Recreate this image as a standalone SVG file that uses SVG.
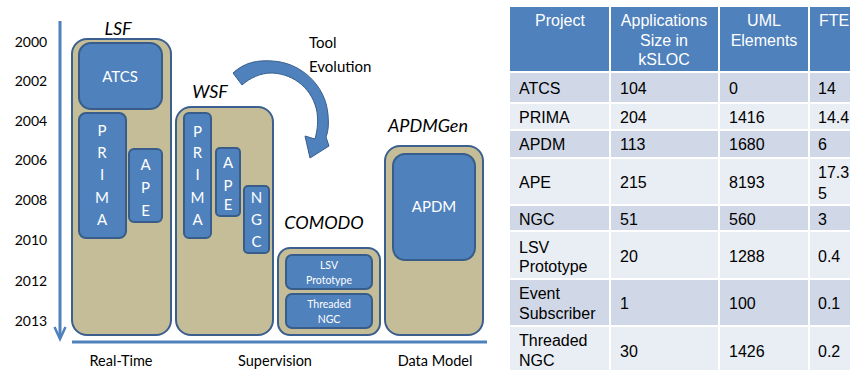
<svg xmlns="http://www.w3.org/2000/svg" width="850" height="370" viewBox="0 0 850 370">
<style>
.cont{fill:#c4bd97;stroke:#3b5f8f;stroke-width:2}
.box{fill:#4f81bd;stroke:#385d8a;stroke-width:2}
.wt{font-family:Lato,"Open Sans",sans-serif;fill:#ffffff;text-anchor:middle}
.lt{font-family:Lato,"Open Sans",sans-serif;fill:#000000}
.it{font-family:Lato,"Open Sans",sans-serif;font-style:italic;fill:#000000;font-size:18px;text-anchor:middle}
.yr{font-family:Lato,"Open Sans",sans-serif;font-size:14px;fill:#000;text-anchor:middle}
.th{fill:#4f81bd}
.d{fill:#d0d8e8}
.l{fill:#e9edf4}
.tt{font-family:"Liberation Sans",Arial,sans-serif;font-size:16px;fill:#000}
.tw{font-family:"Liberation Sans",Arial,sans-serif;font-size:16px;fill:#fff;text-anchor:middle}
.ts{text-anchor:start}
</style>
<rect width="850" height="370" fill="#ffffff"/>

<g id="connectors">
  <line x1="60" y1="21" x2="60" y2="337" stroke="#4f81bd" stroke-width="3"/>
  <polyline points="54.5,327 60,339 65.5,327" fill="none" stroke="#4f81bd" stroke-width="2.5"/>
  <line x1="72" y1="342" x2="487" y2="342" stroke="#4f81bd" stroke-width="3"/>
  <path d="M233,73 C245,62 258,60 272,61 C300,62 326,85 328,115 C329,125 328,132 326,137 L329,146 L310,158 L305,136 L315,139 C318,128 318,120 317,112 C313,90 295,74 272,73 C260,73 250,78 242,85 Z" fill="#4f81bd" stroke="#385d8a" stroke-width="1"/>
</g>

<g id="years">
  <text class="yr" x="31" y="47">2000</text>
  <text class="yr" x="31" y="86">2002</text>
  <text class="yr" x="31" y="126">2004</text>
  <text class="yr" x="31" y="165">2006</text>
  <text class="yr" x="31" y="205">2008</text>
  <text class="yr" x="31" y="245">2010</text>
  <text class="yr" x="31" y="286">2012</text>
  <text class="yr" x="31" y="326">2013</text>
</g>

<g id="axis-labels">
  <text class="lt" x="121" y="366" font-size="14.5" text-anchor="middle">Real-Time</text>
  <text class="lt" x="275" y="366" font-size="14.5" text-anchor="middle">Supervision</text>
  <text class="lt" x="435" y="366" font-size="14.5" text-anchor="middle">Data Model</text>
</g>

<g id="tool-evolution">
  <text class="lt" x="309" y="48" font-size="15">Tool</text>
  <text class="lt" x="309" y="72" font-size="15">Evolution</text>
</g>

<g id="LSF">
  <text class="it" x="118" y="35">LSF</text>
  <rect class="cont" x="72" y="39" width="99" height="296" rx="15"/>
</g>
<g id="ATCS">
  <rect class="box" x="79" y="43" width="83" height="66" rx="12"/>
  <text class="wt" x="120" y="82" font-size="15">ATCS</text>
</g>
<g id="PRIMA-LSF">
  <rect class="box" x="79" y="113" width="47" height="125" rx="7"/>
  <text class="wt" x="102" y="136" font-size="15">P</text>
  <text class="wt" x="102" y="158" font-size="15">R</text>
  <text class="wt" x="102" y="180" font-size="15">I</text>
  <text class="wt" x="102" y="203" font-size="15">M</text>
  <text class="wt" x="102" y="225" font-size="15">A</text>
</g>
<g id="APE-LSF">
  <rect class="box" x="129" y="149" width="33" height="73" rx="5"/>
  <text class="wt" x="145.5" y="170" font-size="15">A</text>
  <text class="wt" x="145.5" y="193" font-size="15">P</text>
  <text class="wt" x="145.5" y="216" font-size="15">E</text>
</g>

<g id="WSF">
  <text class="it" x="210" y="98">WSF</text>
  <rect class="cont" x="176" y="107" width="97" height="228" rx="15"/>
</g>
<g id="PRIMA-WSF">
  <rect class="box" x="184" y="113" width="27" height="125" rx="5"/>
  <text class="wt" x="197.5" y="137" font-size="15">P</text>
  <text class="wt" x="197.5" y="158" font-size="15">R</text>
  <text class="wt" x="197.5" y="180" font-size="15">I</text>
  <text class="wt" x="197.5" y="203" font-size="15">M</text>
  <text class="wt" x="197.5" y="225" font-size="15">A</text>
</g>
<g id="APE-WSF">
  <rect class="box" x="216" y="148" width="24" height="68" rx="4"/>
  <text class="wt" x="228" y="168" font-size="15">A</text>
  <text class="wt" x="228" y="191" font-size="15">P</text>
  <text class="wt" x="228" y="210" font-size="15">E</text>
</g>
<g id="NGC">
  <rect class="box" x="244" y="186" width="25" height="67" rx="4"/>
  <text class="wt" x="256.5" y="203" font-size="15">N</text>
  <text class="wt" x="256.5" y="225" font-size="15">G</text>
  <text class="wt" x="256.5" y="247" font-size="15">C</text>
</g>

<g id="COMODO">
  <text class="it" x="324" y="229">COMODO</text>
  <rect class="cont" x="278" y="248" width="102" height="87" rx="12"/>
</g>
<g id="LSV-Prototype">
  <rect class="box" x="286" y="255" width="86" height="34" rx="6"/>
  <text class="wt" x="329" y="269" font-size="10.5">LSV</text>
  <text class="wt" x="329" y="284" font-size="10.5">Prototype</text>
</g>
<g id="Threaded-NGC">
  <rect class="box" x="286" y="294" width="86" height="34" rx="6"/>
  <text class="wt" x="329" y="308" font-size="10.5">Threaded</text>
  <text class="wt" x="329" y="323" font-size="10.5">NGC</text>
</g>

<g id="APDMGen">
  <text class="it" x="428" y="132">APDMGen</text>
  <rect class="cont" x="385" y="146" width="98" height="189" rx="15"/>
</g>
<g id="APDM">
  <rect class="box" x="393" y="154" width="82" height="106" rx="12"/>
  <text class="wt" x="434" y="212" font-size="15">APDM</text>
</g>

<g id="table">
  <rect class="th" x="510" y="7" width="99" height="64"/>
  <rect class="th" x="611" y="7" width="107" height="64"/>
  <rect class="th" x="720" y="7" width="88" height="64"/>
  <rect class="th" x="810" y="7" width="50" height="64"/>
  <text class="tw" x="560" y="26">Project</text>
  <text class="tw" x="664" y="26">Applications</text>
  <text class="tw" x="664" y="45.5">Size in</text>
  <text class="tw" x="664" y="65">kSLOC</text>
  <text class="tw" x="764" y="26">UML</text>
  <text class="tw" x="764" y="45.5">Elements</text>
  <text class="tw ts" x="819" y="26">FTE</text>

  <g id="row-ATCS">
    <rect class="d" x="510" y="73" width="99" height="29"/><rect class="d" x="611" y="73" width="107" height="29"/><rect class="d" x="720" y="73" width="88" height="29"/><rect class="d" x="810" y="73" width="50" height="29"/>
    <text class="tt" x="519" y="94">ATCS</text><text class="tt" x="620" y="94">104</text><text class="tt" x="729" y="94">0</text><text class="tt" x="818" y="94">14</text>
  </g>
  <g id="row-PRIMA">
    <rect class="l" x="510" y="104" width="99" height="25"/><rect class="l" x="611" y="104" width="107" height="25"/><rect class="l" x="720" y="104" width="88" height="25"/><rect class="l" x="810" y="104" width="50" height="25"/>
    <text class="tt" x="519" y="123">PRIMA</text><text class="tt" x="620" y="123">204</text><text class="tt" x="729" y="123">1416</text><text class="tt" x="818" y="123">14.4</text>
  </g>
  <g id="row-APDM">
    <rect class="d" x="510" y="131" width="99" height="26"/><rect class="d" x="611" y="131" width="107" height="26"/><rect class="d" x="720" y="131" width="88" height="26"/><rect class="d" x="810" y="131" width="50" height="26"/>
    <text class="tt" x="519" y="150">APDM</text><text class="tt" x="620" y="150">113</text><text class="tt" x="729" y="150">1680</text><text class="tt" x="818" y="150">6</text>
  </g>
  <g id="row-APE">
    <rect class="l" x="510" y="159" width="99" height="45"/><rect class="l" x="611" y="159" width="107" height="45"/><rect class="l" x="720" y="159" width="88" height="45"/><rect class="l" x="810" y="159" width="50" height="45"/>
    <text class="tt" x="519" y="188">APE</text><text class="tt" x="620" y="188">215</text><text class="tt" x="729" y="188">8193</text><text class="tt" x="818" y="178">17.3</text><text class="tt" x="818" y="199">5</text>
  </g>
  <g id="row-NGC">
    <rect class="d" x="510" y="206" width="99" height="24"/><rect class="d" x="611" y="206" width="107" height="24"/><rect class="d" x="720" y="206" width="88" height="24"/><rect class="d" x="810" y="206" width="50" height="24"/>
    <text class="tt" x="519" y="225">NGC</text><text class="tt" x="620" y="225">51</text><text class="tt" x="729" y="225">560</text><text class="tt" x="818" y="225">3</text>
  </g>
  <g id="row-LSV">
    <rect class="l" x="510" y="232" width="99" height="46"/><rect class="l" x="611" y="232" width="107" height="46"/><rect class="l" x="720" y="232" width="88" height="46"/><rect class="l" x="810" y="232" width="50" height="46"/>
    <text class="tt" x="519" y="253">LSV</text><text class="tt" x="519" y="272">Prototype</text><text class="tt" x="620" y="262">20</text><text class="tt" x="729" y="262">1288</text><text class="tt" x="818" y="262">0.4</text>
  </g>
  <g id="row-Event">
    <rect class="d" x="510" y="280" width="99" height="45"/><rect class="d" x="611" y="280" width="107" height="45"/><rect class="d" x="720" y="280" width="88" height="45"/><rect class="d" x="810" y="280" width="50" height="45"/>
    <text class="tt" x="519" y="299">Event</text><text class="tt" x="519" y="319">Subscriber</text><text class="tt" x="620" y="309">1</text><text class="tt" x="729" y="309">100</text><text class="tt" x="818" y="309">0.1</text>
  </g>
  <g id="row-Threaded">
    <rect class="l" x="510" y="327" width="99" height="45"/><rect class="l" x="611" y="327" width="107" height="45"/><rect class="l" x="720" y="327" width="88" height="45"/><rect class="l" x="810" y="327" width="50" height="45"/>
    <text class="tt" x="519" y="346">Threaded</text><text class="tt" x="519" y="366">NGC</text><text class="tt" x="620" y="357">30</text><text class="tt" x="729" y="357">1426</text><text class="tt" x="818" y="357">0.2</text>
  </g>
</g>
</svg>
